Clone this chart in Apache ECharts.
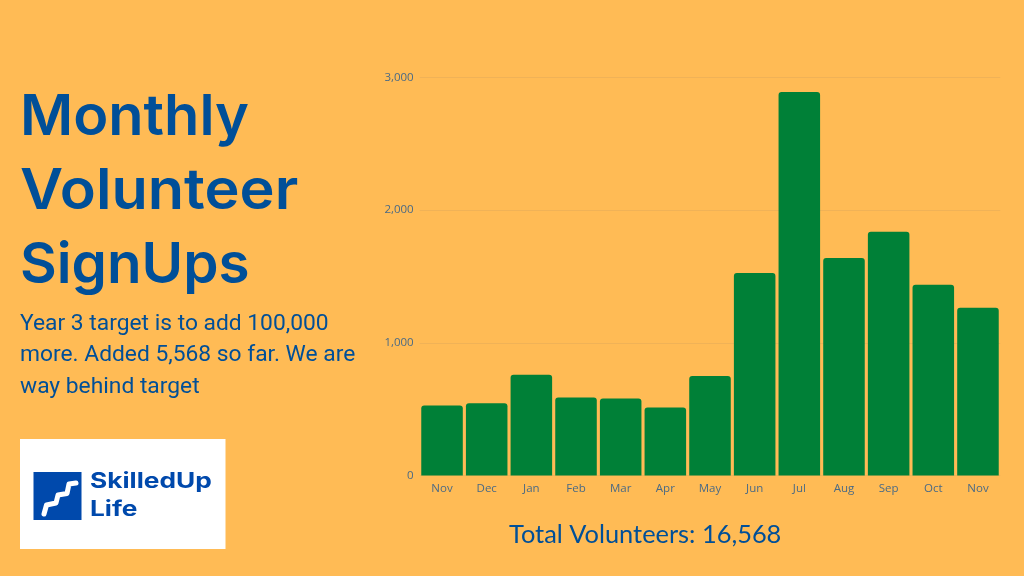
<!DOCTYPE html>
<html><head><meta charset="utf-8">
<style>html,body{margin:0;padding:0;background:#FFBB55}#c{width:1024px;height:576px}</style>
<script src="https://cdn.jsdelivr.net/npm/echarts@6/dist/echarts.min.js"></script>
</head><body><div id="c"></div>
<script>
const categories=['Nov','Dec','Jan','Feb','Mar','Apr','May','Jun','Jul','Aug','Sep','Oct','Nov'];
const signups=[527,545,760,588,580,512,750,1527,2890,1640,1838,1438,1265];
const yTicks=[0,1000,2000,3000];
const titleLines=['Monthly','Volunteer','SignUps'];
const bodyLines=['Year 3 target is to add 100,000','more. Added 5,568 so far. We are','way behind target'];
const totalLabel='Total Volunteers: 16,568';
const navy='#004F98';
const titleScale=[1.03,1.06,1.01];
const text=(x,y,t,font,size,weight,color,sx)=>({type:'text',x,y,scaleX:sx||1,style:{text:t,fontFamily:font,fontSize:size,fontWeight:weight,fill:color,textAlign:'left',textVerticalAlign:'middle'}});
const chart=echarts.init(document.getElementById('c'),null,{renderer:'canvas'});
chart.setOption({
 backgroundColor:'#FFBB55',animation:false,
 grid:{left:419.7,right:23.7,top:77.5,bottom:100.5},
 xAxis:{type:'category',data:categories,axisLine:{show:false},axisTick:{show:false},
  axisLabel:{color:'#4A6A85',fontFamily:'Open Sans',fontSize:11.5,margin:7,interval:0}},
 yAxis:{type:'value',min:0,max:3000,interval:1000,
  axisLabel:{color:'#4A6A85',fontFamily:'Open Sans',fontSize:11.5,margin:6,padding:[2,0,0,0],formatter:v=>yTicks.includes(v)?v.toLocaleString('en-US'):''},
  axisLine:{show:false},axisTick:{show:false},splitLine:{lineStyle:{color:'#F0B257',width:1}}},
 series:[{type:'bar',data:signups,barCategoryGap:'7%',itemStyle:{color:'#008037',borderRadius:[3,3,0,0]}}],
 graphic:[
  ...titleLines.map((t,i)=>text(20,118+i*74,t,'Inter',56,600,navy,titleScale[i])),
  ...bodyLines.map((t,i)=>text(20,324+i*31.5,t,'Roboto',22.8,400,navy)),
  text(509,535,totalLabel,'Lato',25.4,400,navy),
  {type:'rect',shape:{x:20,y:439,width:205.5,height:110},style:{fill:'#fff'}},
  {type:'rect',shape:{x:33.5,y:472,width:48,height:48},style:{fill:'#0049AC'}},
  {type:'polyline',shape:{points:[[44,514],[46.5,505],[56,503],[58,495],[67,493.5],[69,484],[76,483]]},style:{stroke:'#fff',fill:null,lineWidth:5,lineCap:'round',lineJoin:'round'}},
  text(90,482,'SkilledUp','Inter',21,700,'#0049AC',1.25),
  text(90,510,'Life','Inter',21,700,'#0049AC',1.25)
 ]
});
</script></body></html>
